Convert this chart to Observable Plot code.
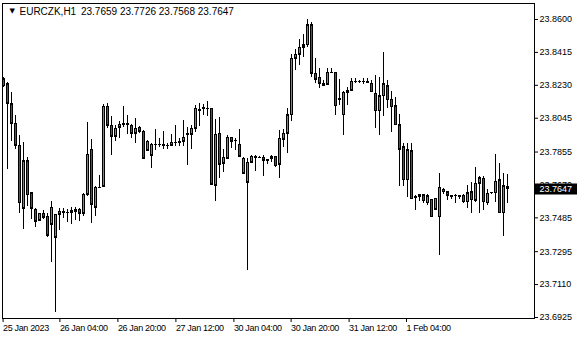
<!DOCTYPE html>
<html><head><meta charset="utf-8">
<script src="https://cdn.jsdelivr.net/npm/d3@7"></script>
<script src="https://cdn.jsdelivr.net/npm/@observablehq/plot@0.6"></script>
<style>html,body{margin:0;padding:0;background:#fff;overflow:hidden}#chart{width:580px;height:340px}
g[aria-label="x-axis tick label"] text{letter-spacing:-0.35px}</style>
</head><body><div id="chart"></div>
<script>
const symbolName = "EURCZK,H1";
const open  = [23.8263,23.8235,23.8123,23.8014,23.7890,23.7536,23.7802,23.7622,23.7531,23.7469,23.7508,23.7491,23.7446,23.7373,23.7503,23.7514,23.7512,23.7514,23.7520,23.7531,23.7508,23.7615,23.7868,23.7542,23.7652,23.7660,23.8110,23.8003,23.7941,23.7992,23.8008,23.8014,23.8003,23.7958,23.7992,23.7969,23.7862,23.7834,23.7894,23.7896,23.7896,23.7890,23.7890,23.7907,23.7907,23.7913,23.7952,23.7952,23.7986,23.8087,23.8098,23.8098,23.8098,23.7666,23.7958,23.7789,23.7817,23.7935,23.7919,23.7896,23.7733,23.7683,23.7795,23.7823,23.7821,23.7823,23.7806,23.7817,23.7829,23.7784,23.7924,23.7958,23.8061,23.8379,23.8402,23.8441,23.8454,23.8567,23.8295,23.8273,23.8239,23.8233,23.8301,23.8301,23.8155,23.8061,23.8188,23.8200,23.8248,23.8248,23.8248,23.8246,23.8239,23.8183,23.8085,23.8168,23.8224,23.8149,23.8111,23.8005,23.7883,23.7695,23.7858,23.7598,23.7602,23.7611,23.7568,23.7587,23.7531,23.7489,23.7643,23.7630,23.7609,23.7609,23.7606,23.7609,23.7574,23.7630,23.7581,23.7677,23.7705,23.7568,23.7624,23.7624,23.7695,23.7512,23.7659];
const high  = [23.8276,23.8246,23.8190,23.8061,23.7947,23.7911,23.7825,23.7628,23.7536,23.7512,23.7525,23.7508,23.7576,23.7504,23.7536,23.7536,23.7531,23.7542,23.7542,23.7536,23.7621,23.8020,23.7924,23.7660,23.7722,23.8121,23.8127,23.8053,23.8003,23.8025,23.8110,23.8059,23.8008,23.8042,23.7997,23.7975,23.7919,23.7902,23.7980,23.7930,23.7971,23.7902,23.7952,23.8003,23.7930,23.8031,23.7992,23.8003,23.8115,23.8127,23.8121,23.8138,23.8100,23.8037,23.8048,23.7868,23.7947,23.7937,23.7930,23.7980,23.7823,23.7817,23.7834,23.7834,23.7830,23.7836,23.7815,23.7836,23.7829,23.7976,23.7982,23.8102,23.8402,23.8430,23.8488,23.8516,23.8600,23.8582,23.8379,23.8323,23.8256,23.8323,23.8323,23.8302,23.8261,23.8196,23.8216,23.8267,23.8267,23.8257,23.8267,23.8267,23.8257,23.8286,23.8276,23.8416,23.8257,23.8197,23.8164,23.8066,23.7905,23.7905,23.7905,23.7611,23.7617,23.7617,23.7617,23.7589,23.7594,23.7733,23.7648,23.7634,23.7613,23.7617,23.7608,23.7617,23.7667,23.7686,23.7770,23.7718,23.7718,23.7643,23.7630,23.7842,23.7789,23.7733,23.7726];
const low   = [23.8220,23.7759,23.7916,23.7868,23.7512,23.7422,23.7551,23.7475,23.7433,23.7466,23.7475,23.7373,23.7233,23.6955,23.7413,23.7480,23.7458,23.7446,23.7469,23.7463,23.7491,23.7604,23.7452,23.7491,23.7649,23.7654,23.7986,23.7834,23.7913,23.7930,23.7992,23.7954,23.7930,23.7902,23.7958,23.7814,23.7858,23.7761,23.7862,23.7879,23.7868,23.7868,23.7887,23.7885,23.7885,23.7885,23.7778,23.7868,23.7964,23.7997,23.8059,23.8053,23.7670,23.7576,23.7705,23.7739,23.7812,23.7874,23.7862,23.7828,23.7732,23.7188,23.7794,23.7744,23.7817,23.7720,23.7785,23.7795,23.7770,23.7708,23.7878,23.7845,23.8027,23.8314,23.8342,23.8388,23.8441,23.8276,23.8239,23.8211,23.8222,23.8229,23.8295,23.8061,23.8117,23.7948,23.8117,23.8199,23.8239,23.8243,23.8233,23.8239,23.8188,23.7986,23.7948,23.8055,23.8098,23.7967,23.8002,23.7663,23.7663,23.7602,23.7589,23.7527,23.7579,23.7565,23.7555,23.7487,23.7530,23.7274,23.7617,23.7583,23.7589,23.7568,23.7590,23.7565,23.7536,23.7512,23.7574,23.7512,23.7527,23.7555,23.7617,23.7574,23.7510,23.7382,23.7568];
const close = [23.8225,23.8127,23.8014,23.7890,23.7568,23.7802,23.7611,23.7536,23.7463,23.7508,23.7486,23.7385,23.7542,23.7503,23.7520,23.7520,23.7514,23.7525,23.7531,23.7508,23.7615,23.7840,23.7559,23.7654,23.7654,23.8110,23.8003,23.7941,23.7986,23.8008,23.8014,23.8008,23.7958,23.7986,23.7969,23.7817,23.7913,23.7896,23.7896,23.7895,23.7890,23.7889,23.7907,23.7908,23.7913,23.7935,23.7954,23.7986,23.8098,23.8093,23.8100,23.8099,23.7671,23.7952,23.7784,23.7823,23.7935,23.7913,23.7917,23.7829,23.7817,23.7795,23.7829,23.7825,23.7823,23.7806,23.7808,23.7829,23.7776,23.7930,23.7958,23.8061,23.8379,23.8402,23.8441,23.8454,23.8567,23.8295,23.8261,23.8239,23.8228,23.8301,23.8302,23.8113,23.8149,23.8188,23.8200,23.8250,23.8249,23.8249,23.8249,23.8245,23.8192,23.8085,23.8168,23.8235,23.8145,23.8107,23.8005,23.7868,23.7695,23.7864,23.7590,23.7600,23.7611,23.7579,23.7606,23.7489,23.7593,23.7654,23.7630,23.7609,23.7603,23.7608,23.7604,23.7574,23.7624,23.7583,23.7677,23.7708,23.7574,23.7621,23.7626,23.7688,23.7512,23.7662,23.7647];
const timeLabels  = ["25 Jan 2023","26 Jan 04:00","26 Jan 20:00","27 Jan 12:00","30 Jan 04:00","30 Jan 20:00","31 Jan 12:00","1 Feb 04:00"];
const timeTickIdx = [-0.1, 14.1, 28.6, 43.1, 57.6, 71.9, 86.4, 100.75];
const priceTicks  = [23.8600,23.8415,23.8230,23.8045,23.7855,23.7670,23.7485,23.7295,23.7110,23.6925];

const yDomain = [23.69193, 23.86899];
const xDomain = [-0.25, 132.75];
const green = "#3cb43c", red = "#d21e1e";

const bars = open.map((o, i) => ({
  i, o, h: high[i], l: low[i], c: close[i],
  top: Math.max(o, close[i]), bot: Math.min(o, close[i]), up: close[i] >= o
}));
const pxPerUnit = 315 / (yDomain[1] - yDomain[0]);
const filled = bars.filter(d => (d.top - d.bot) * pxPerUnit > 2.2);
const last = bars[bars.length - 1];
const labelMap = new Map(timeTickIdx.map((t, k) => [t, timeLabels[k]]));
const header = symbolName + "\u00a0\u2009" + [last.o, last.h, last.l, last.c].map(v => v.toFixed(4)).join(" ");
const font = "'Liberation Sans', Arial, sans-serif";

const chart = Plot.plot({
  width: 580, height: 340,
  marginLeft: 2, marginRight: 46, marginTop: 3, marginBottom: 22,
  x: {domain: xDomain, axis: null},
  y: {domain: yDomain, axis: null},
  color: {type: "identity"},
  style: {fontFamily: font, fontSize: "9px", background: "white", color: "black"},
  marks: [
    Plot.ruleX(bars, {x: "i", y1: "h", y2: "l", stroke: "black", strokeWidth: 1, shapeRendering: "crispEdges"}),
    Plot.ruleX(bars, {x: "i", y1: "top", y2: "bot", stroke: "black", strokeWidth: 3, insetTop: -0.5, insetBottom: -0.5, shapeRendering: "crispEdges"}),
    Plot.ruleX(filled, {x: "i", y1: "top", y2: "bot", stroke: d => d.up ? green : red, strokeWidth: 1, insetTop: 1, insetBottom: 1, shapeRendering: "crispEdges"}),
    Plot.frame({stroke: "black"}),
    Plot.axisY(priceTicks, {anchor: "right", label: null, tickSize: 3, tickPadding: 2, tickFormat: d => d.toFixed(4), fontSize: 9}),
    Plot.axisX(timeTickIdx, {anchor: "bottom", label: null, tickSize: 4, tickPadding: 2, tickFormat: d => labelMap.get(d), textAnchor: "start", dx: 0, fontSize: 9}),
    Plot.ruleY([last.c], {y: d => d, x1: xDomain[1] + 0.25, x2: xDomain[1] + 10.75, stroke: "black", strokeWidth: 11}),
    Plot.text([last.c], {y: d => d, frameAnchor: "right", dx: 5, textAnchor: "start", text: d => d.toFixed(4), fill: "white", fontSize: 9}),
    Plot.text([header], {frameAnchor: "top-left", dx: 17, dy: 11.5, lineAnchor: "bottom", textAnchor: "start", text: d => d, fontSize: 10}),
    Plot.text(["\u25BC"], {frameAnchor: "top-left", dx: 7, dy: 7.5, lineAnchor: "middle", text: d => d, fontSize: 7, fontFamily: "DejaVu Sans"})
  ]
});
document.getElementById("chart").appendChild(chart);
</script>
</body></html>
